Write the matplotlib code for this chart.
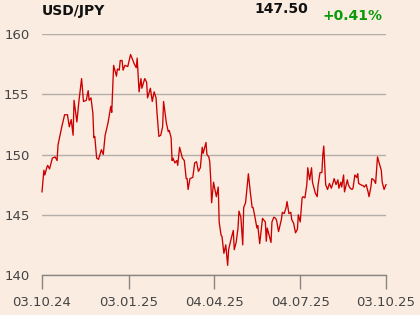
import matplotlib
matplotlib.use("Agg")
import matplotlib.pyplot as plt
import matplotlib.dates as mdates
import pandas as pd

START = "2024-10-03"

# days since 03.10.24 and USD/JPY close
days = [0, 2, 3, 5, 6, 8, 11, 14, 16, 17, 20, 21, 24, 27, 29, 31, 33, 34, 37, 39,
        42, 44, 47, 49, 50, 52, 54, 55, 56, 58, 60, 63, 65, 67, 70, 73, 74, 76, 79, 80,
        82, 83, 85, 86, 88, 91, 94, 95, 98, 100, 101, 103, 105, 106, 109, 111, 112, 115, 117, 119,
        121, 122, 124, 126, 128, 129, 132, 134, 135, 137, 138, 139, 141, 143, 144, 146, 149, 151, 153, 154,
        155, 157, 160, 162, 164, 166, 168, 170, 171, 174, 175, 177, 178, 179, 180, 182, 185, 187, 188, 190,
        191, 193, 195, 197, 198, 201, 203, 204, 206, 208, 209, 211, 213, 214, 216, 219, 221, 223, 224, 226,
        228, 229, 231, 233, 234, 237, 238, 239, 241, 243, 244, 246, 248, 249, 251, 254, 255, 257, 259, 260,
        262, 264, 265, 267, 269, 271, 272, 274, 276, 277, 279, 281, 282, 284, 286, 287, 290, 292, 293, 295,
        297, 298, 299, 301, 303, 305, 307, 309, 310, 312, 314, 315, 317, 318, 320, 321, 324, 325, 327, 329,
        330, 332, 334, 335, 336, 338, 341, 342, 344, 346, 347, 349, 350, 352, 354, 356, 357, 360, 361, 363,
        364, 365]
price = [146.9, 148.7, 148.3, 148.9, 149.1, 148.8, 149.7, 149.8, 149.5, 150.8, 151.9, 152.3, 153.3, 153.3, 152.3, 152.9, 151.6, 154.5, 152.7, 154.3,
         156.3, 154.4, 154.5, 155.3, 154.5, 154.7, 153.4, 151.4, 151.5, 149.7, 149.6, 150.4, 150.0, 151.6, 152.6, 154.0, 153.5, 157.4, 156.5, 157.1,
         157.0, 157.8, 157.8, 157.0, 157.4, 157.3, 158.3, 158.1, 157.5, 157.2, 158.0, 155.2, 156.3, 155.5, 156.3, 156.0, 154.7, 155.5, 154.4, 155.2,
         154.7, 153.5, 151.5, 151.6, 152.3, 154.4, 152.6, 151.9, 152.0, 151.4, 149.5, 149.7, 149.3, 149.5, 149.1, 150.6, 149.7, 149.5, 148.0, 148.0,
         147.1, 148.0, 148.1, 149.3, 149.4, 148.6, 148.9, 150.6, 150.1, 151.0, 150.0, 149.8, 149.4, 148.0, 146.0, 147.7, 146.5, 147.3, 144.4, 143.3,
         143.2, 141.8, 142.5, 140.8, 142.1, 143.1, 143.7, 142.1, 142.7, 143.9, 145.3, 144.8, 142.5, 145.6, 146.0, 148.4, 146.9, 145.6, 145.6, 144.8,
         143.9, 144.1, 142.6, 144.0, 144.7, 144.4, 142.8, 143.9, 143.3, 142.7, 144.4, 144.8, 144.7, 144.5, 143.6, 144.6, 145.2, 145.1, 145.6, 146.1,
         145.1, 145.2, 144.6, 144.3, 143.5, 143.8, 145.0, 144.4, 146.4, 146.5, 146.4, 147.5, 148.9, 147.9, 148.9, 147.7, 146.8, 146.5, 147.5, 148.5,
         148.5, 150.0, 150.7, 147.5, 147.1, 147.6, 147.2, 147.7, 148.0, 147.5, 147.9, 147.2, 147.7, 147.3, 148.3, 146.9, 147.9, 147.5, 147.2, 147.1,
         147.2, 148.3, 148.1, 148.4, 147.6, 147.5, 147.4, 147.3, 147.5, 146.9, 146.5, 147.3, 148.0, 147.9, 147.6, 149.8, 149.5, 148.7, 147.7, 147.1,
         147.3, 147.5]

tick_dates = ["2024-10-03", "2025-01-03", "2025-04-04", "2025-07-04", "2025-10-03"]
y_ticks = [140, 145, 150, 155, 160]

BG = "#faece1"

dates = pd.Timestamp(START) + pd.to_timedelta(days, unit="D")

fig = plt.figure(figsize=(4.2, 3.15), dpi=100, facecolor=BG)
ax = fig.add_axes([0.1, 0.127, 0.819, 0.765], facecolor=BG)

ax.plot(dates, price, color="#cc0000", linewidth=0.95, clip_on=False, zorder=3)

ax.set_ylim(140, 160)
ax.set_xlim(pd.Timestamp(tick_dates[0]), pd.Timestamp(tick_dates[-1]))
ax.set_yticks(y_ticks)
ax.set_yticklabels([str(v) for v in y_ticks])
ax.set_xticks([pd.Timestamp(d) for d in tick_dates])
ax.xaxis.set_major_formatter(mdates.DateFormatter("%d.%m.%y"))
ax.grid(axis="y", color="#b4aea8", linewidth=1.0, zorder=1)

for side in ["top", "right", "left"]:
    ax.spines[side].set_visible(False)
ax.spines["bottom"].set_color("#8a8580")
ax.spines["bottom"].set_linewidth(1.0)

ax.tick_params(axis="y", length=0, pad=9, labelsize=9.5, labelcolor="#444444")
ax.tick_params(axis="x", length=10, width=1.0, color="#8a8580", pad=5,
               labelsize=9.5, labelcolor="#444444")

fig.text(42 / 420, 1 - 11 / 315, "USD/JPY", fontsize=10, fontweight="bold",
         color="#111111", ha="left", va="center")
fig.text(281 / 420, 1 - 9 / 315, "147.50", fontsize=10, fontweight="bold",
         color="#111111", ha="center", va="center")
fig.text(352 / 420, 1 - 16 / 315, "+0.41%", fontsize=10, fontweight="bold",
         color="#0a9a0a", ha="center", va="center")

fig.savefig("out.png", dpi=100, facecolor=BG)
